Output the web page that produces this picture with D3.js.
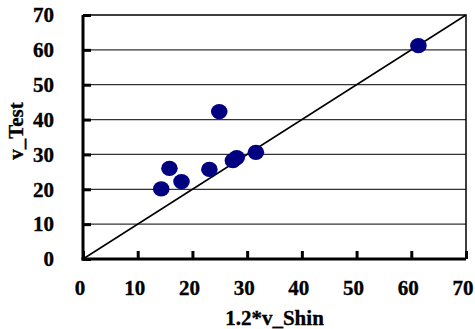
<!DOCTYPE html>
<html>
<head>
<meta charset="utf-8">
<script src="https://cdn.jsdelivr.net/npm/d3@7"></script>
<style>
  body { margin: 0; background: #fff; }
</style>
</head>
<body>
<svg id="chart"></svg>
<script>
/* data */
const shinValues = [24.9, 15.8, 18.0, 14.3, 23.1, 27.4, 28.1, 31.6, 61.3];
const testValues = [42.3, 26.0, 22.2, 20.1, 25.7, 28.2, 29.1, 30.6, 61.2];
const tickValues = [0, 10, 20, 30, 40, 50, 60, 70];
const identityLine = [0, 70];

/* size and padding of svg */
const width = 475, height = 329;
const padding = {left: 83, right: 9, top: 15, bottom: 70};
const labelFont = "Liberation Serif";
const labelSize = 21;

const svg = d3.select("#chart")
  .attr("width", width)
  .attr("height", height);

const x = d3.scaleLinear().domain([0, 70]).range([padding.left, width - padding.right]);
const y = d3.scaleLinear().domain([0, 70]).range([height - padding.bottom, padding.top]);

/* horizontal grid lines */
svg.append("g")
  .selectAll("line")
  .data(tickValues.slice(1, -1))
  .join("line")
  .attr("x1", x(0)).attr("x2", x(70))
  .attr("y1", d => y(d)).attr("y2", d => y(d))
  .attr("stroke", "#333").attr("stroke-width", 1.2);

/* plot border top and right */
svg.append("path")
  .attr("d", `M${x(0)},${y(70)}H${x(70)}V${y(0)}`)
  .attr("fill", "none").attr("stroke", "#000").attr("stroke-width", 1.5);

/* 1:1 line */
svg.append("line")
  .attr("x1", x(identityLine[0])).attr("y1", y(identityLine[0]))
  .attr("x2", x(identityLine[1])).attr("y2", y(identityLine[1]))
  .attr("stroke", "#000").attr("stroke-width", 1.5);

/* axes, ticks pointing into the plot */
const xAxis = d3.axisBottom(x).tickValues(tickValues).tickSize(-8).tickPadding(21).tickSizeOuter(0);
const yAxis = d3.axisLeft(y).tickValues(tickValues).tickSize(-8).tickPadding(29).tickSizeOuter(0);

const gx = svg.append("g").attr("transform", `translate(0,${y(0)})`).call(xAxis);
const gy = svg.append("g").attr("transform", `translate(${x(0)},0)`).call(yAxis);

[gx, gy].forEach(g => {
  g.attr("font-family", labelFont).attr("font-size", labelSize).attr("font-weight", "bold");
  g.select(".domain").attr("stroke", "#000").attr("stroke-width", 3);
  g.selectAll(".tick line").attr("stroke", "#000").attr("stroke-width", 3);
  g.selectAll(".tick text")
    .attr("fill", "#000")
    .attr("stroke", "#000")
    .attr("stroke-width", 0.35);
});
/* x labels sit a little left of their ticks in the original */
gx.selectAll(".tick text").attr("dx", -3.5);
gy.select(".domain").attr("d", `M0,${y(70)}V${y(0) + 1.5}`);
gx.select(".domain").attr("d", `M${x(0) - 1.5},0H${x(70)}`);

/* points */
svg.append("g")
  .selectAll("ellipse")
  .data(shinValues.map((v, i) => [v, testValues[i]]))
  .join("ellipse")
  .attr("cx", d => x(d[0]))
  .attr("cy", d => y(d[1]))
  .attr("rx", 8.3).attr("ry", 7.6)
  .attr("fill", "#000080");

/* axis titles */
svg.append("text")
  .attr("x", (x(0) + x(70)) / 2).attr("y", 325)
  .attr("text-anchor", "middle")
  .attr("font-family", labelFont).attr("font-weight", "bold").attr("font-size", labelSize)
  .attr("stroke", "#000").attr("stroke-width", 0.35)
  .text("1.2*v_Shin");

svg.append("text")
  .attr("transform", "translate(23,131) rotate(-90)")
  .attr("text-anchor", "middle")
  .attr("font-family", labelFont).attr("font-weight", "bold").attr("font-size", labelSize)
  .attr("stroke", "#000").attr("stroke-width", 0.35)
  .text("v_Test");
</script>
</body>
</html>
